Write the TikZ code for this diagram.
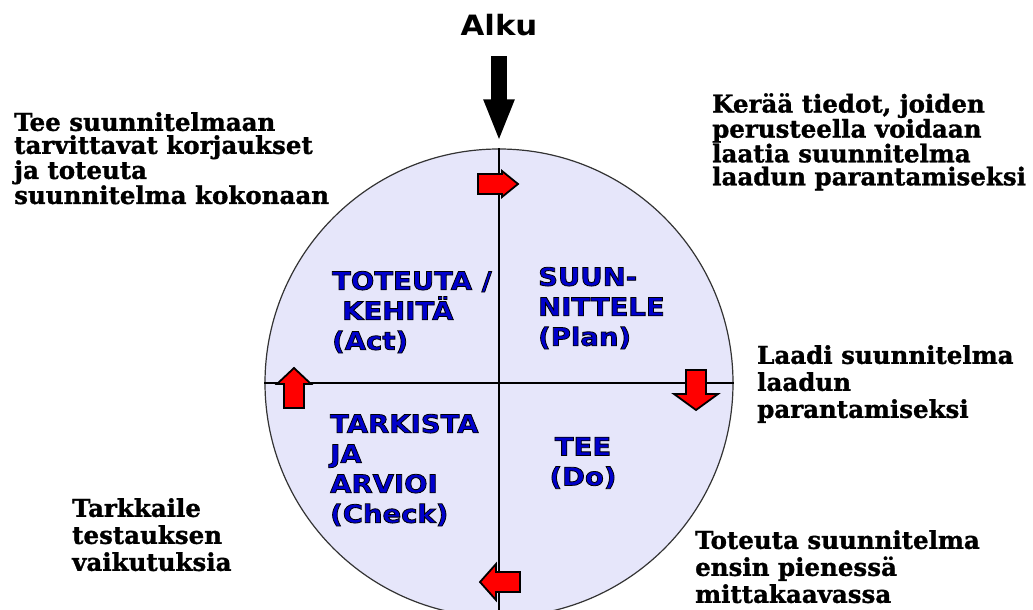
\documentclass[tikz,border=0pt]{standalone}
\usepackage{fontspec}
\setmainfont{DejaVu Serif}[BoldFeatures={FakeBold=1.2}]
\setsansfont{DejaVu Sans}
\newfontfamily\widesans{DejaVu Sans}[FakeStretch=1.1]
\usetikzlibrary{arrows.meta, positioning}
\definecolor{ink}      {HTML}{000000}
\definecolor{disc}     {HTML}{E6E6FA}
\definecolor{phaseblue}{HTML}{0000CC}
\definecolor{arrowred} {HTML}{FF0000}
\newcommand{\outlined}{\special{pdf:literal 2 Tr 0.8 w 0 G}}
\tikzset{
  note/.style   = {anchor=north west, inner sep=0pt, align=left, text=ink,
                   font=\bfseries\fontsize{24.5}{23}\selectfont},
  lnote/.style  = {note, font=\bfseries\fontsize{24.5}{27}\selectfont},
  phase/.style  = {anchor=north west, inner sep=0pt, align=left, text=phaseblue,
                   font=\widesans\bfseries\fontsize{25}{30}\selectfont},
  axis/.style   = {line width=2.6pt, ink},
  entry/.style  = {line width=16pt, ink, -{Triangle[width=28pt, length=42pt]}},
  pics/redarr/.style = {code={
    \draw[fill=arrowred, draw=ink, line width=1.8pt, line join=miter]
      (-20,-10) -- (4,-10) -- (4,-#1) -- (20,0) -- (4,#1) -- (4,10) -- (-20,10) -- cycle;}},
}
\begin{document}
\begin{tikzpicture}[x=1pt, y=-1pt]
  \useasboundingbox (0,0) rectangle (1033,610);
  \clip (0,0) rectangle (1033,610);

  % the cycle
  \node[circle, draw=ink!80, line width=1.2pt, fill=disc,
        minimum size=468pt, inner sep=0pt] (wheel) at (499,383) {};
  \draw[axis] (wheel.north) -- (wheel.south);
  \draw[axis] (wheel.west) -- (wheel.east);

  \node[inner sep=0pt, font=\widesans\bfseries\fontsize{28}{30}\selectfont] (alku) at (499,25) {Alku};
  \draw[entry, shorten <=20pt, shorten >=7pt] (alku) -- (wheel.north);

  % phases
  \node[phase] (act)   at (332,271) {\outlined TOTEUTA /\\\hspace{10pt}KEHITÄ\\(Act)};
  \node[phase] (plan)  at (538,267) {\outlined SUUN-\\NITTELE\\(Plan)};
  \node[phase] (check) at (330,414) {\outlined TARKISTA\\JA\\ARVIOI\\(Check)};
  \node[phase, align=center, anchor=north] (do) at (583,437) {\outlined TEE\\(Do)};

  % direction of the cycle
  \pic at (498,184) {redarr=13};
  \pic[rotate=-90] at (696,390) {redarr=22};
  \pic[rotate=180] at (500,582) {redarr=18};
  \pic[rotate=90] at (294,388) {redarr=17};

  % what to do in each step
  \node[note]  (fix)    at (14,112)  {Tee suunnitelmaan\\tarvittavat korjaukset\\ja toteuta\\suunnitelma kokonaan};
  \node[note]  (gather) at (712,93)  {Kerää tiedot, joiden\\perusteella voidaan\\laatia suunnitelma\\laadun parantamiseksi};
  \node[lnote] (draft)  at (757,345) {Laadi suunnitelma\\laadun\\parantamiseksi};
  \node[lnote] (watch)  at (72,498)  {Tarkkaile\\testauksen\\vaikutuksia};
  \node[lnote] (pilot)  at (695,530) {Toteuta suunnitelma\\ensin pienessä\\mittakaavassa};
\end{tikzpicture}
\end{document}
